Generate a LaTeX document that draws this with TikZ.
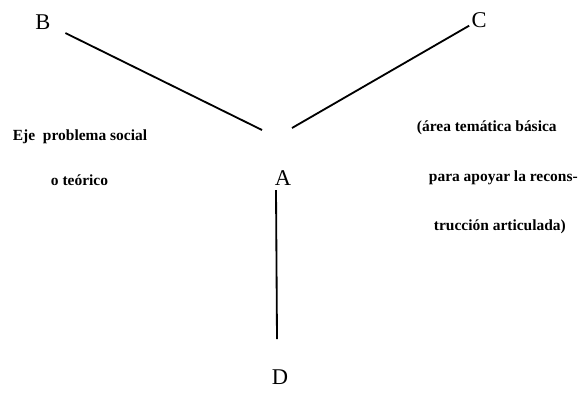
\documentclass[tikz,border=0pt]{standalone}
\usepackage{fontspec}
\setmainfont{Liberation Serif}
\usepackage{tikz}
\usetikzlibrary{positioning}

\begin{document}
\begin{tikzpicture}[x=0.025cm, y=-0.025cm, line width=1.3pt,
  letra/.style={font=\fontsize{16}{18}\selectfont, inner sep=1pt},
  nota/.style={font=\fontsize{11}{13}\selectfont\bfseries, anchor=west, inner sep=0pt}]
  \useasboundingbox (0,0) rectangle (578,397);
  % Vertices
  \node[letra] (B) at (43,22) {B};
  \node[letra] (C) at (479,20) {C};
  \node[letra] (A) at (283,178) {A};
  \node[letra] (D) at (280,377) {D};
  \coordinate (finB) at (262,130);
  \coordinate (finC) at (292,128);
  \coordinate (iniD) at (276,190);
  \coordinate (finD) at (277,339);

  % Lineas
  \draw[shorten <=10pt] (B) -- (finB);
  \draw (C) -- (finC);
  \draw (iniD) -- (finD);

  % Textos
  \node[nota] (eje) at (12,137) {Eje\ \ problema social};
  \node[nota] (teorico) at (50,180) {o teórico};
  \node[nota] (area) at (416,128) {(área temática básica};
  \node[nota] (apoyar) at (428,178) {para apoyar la recons-};
  \node[nota] (trucc) at (433,227) {trucción articulada)};
\end{tikzpicture}
\end{document}
